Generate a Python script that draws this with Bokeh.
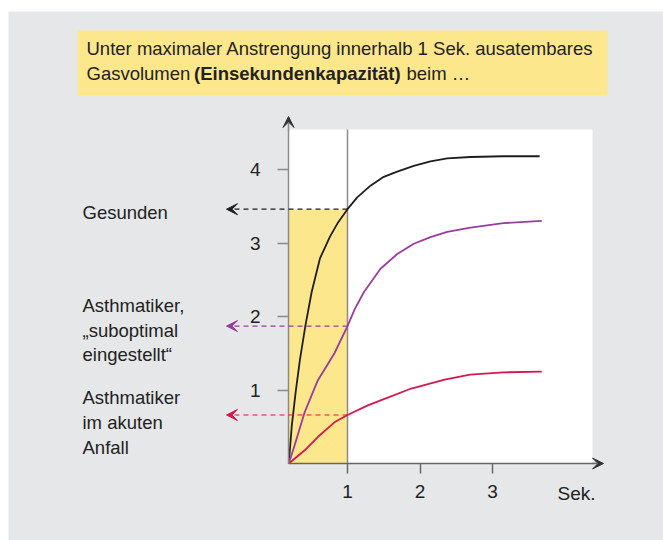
from bokeh.plotting import figure
from bokeh.models import Range1d, FixedTicker, Label, Arrow, VeeHead, LinearAxis
from bokeh.embed import file_html
from bokeh.resources import INLINE

# ---- data ----
x_ticks = [1, 2, 3]
y_ticks = [1, 2, 3, 4]

t_gesund = [0.19, 0.232, 0.285, 0.345, 0.42, 0.505, 0.62, 0.76, 0.87, 1.0, 1.134, 1.317, 1.50, 1.686, 1.914, 2.145, 2.375, 2.697, 3.15, 3.65]
v_gesund = [0.0, 0.52, 0.97, 1.42, 1.88, 2.33, 2.79, 3.09, 3.28, 3.46, 3.62, 3.78, 3.90, 3.97, 4.05, 4.11, 4.15, 4.17, 4.18, 4.18]

t_subopt = [0.19, 0.27, 0.41, 0.59, 0.82, 1.0, 1.1, 1.225, 1.455, 1.686, 1.914, 2.145, 2.375, 2.697, 3.15, 3.68]
v_subopt = [0.0, 0.245, 0.70, 1.13, 1.50, 1.87, 2.10, 2.33, 2.65, 2.85, 2.99, 3.08, 3.15, 3.21, 3.27, 3.30]

t_anfall = [0.19, 0.41, 0.59, 0.82, 1.0, 1.28, 1.51, 1.88, 2.34, 2.69, 3.15, 3.68]
v_anfall = [0.0, 0.18, 0.36, 0.56, 0.66, 0.79, 0.88, 1.02, 1.14, 1.21, 1.24, 1.25]

fev1 = [3.46, 1.87, 0.66]          # volume exhaled after 1 s
series_colors = ["#1e1e1e", "#9a3c9e", "#d8174c"]

title_line1 = "Unter maximaler Anstrengung innerhalb 1 Sek. ausatembares"
title_line2 = ["Gasvolumen", "(Einsekundenkapazität)", "beim …"]
group_labels = [["Gesunden"],
                ["Asthmatiker,", "„suboptimal", "eingestellt“"],
                ["Asthmatiker", "im akuten", "Anfall"]]
x_unit = "Sek."

# ---- layout helpers (page pixel -> data) ----
def px2x(px):
    return 1 + (px - 347.0) / 72.5

def py2y(py):
    return (463.0 - py) / 73.5

FONT = "Liberation Sans"
TXT = "#222222"
GRAY_BG = "#e6e7e9"
YELLOW = "#fde78c"
AX_X = "#666666"
AX_Y = "#8a8a8a"
HEAD = "#333333"

W, H = 663, 540
p = figure(width=W, height=H, output_backend="svg", toolbar_location=None,
           x_range=Range1d(px2x(0), px2x(W)), y_range=Range1d(py2y(H), py2y(0)),
           x_axis_type=None, y_axis_type=None,
           min_border_left=0, min_border_right=0, min_border_top=0, min_border_bottom=0)
p.background_fill_color = "white"
p.border_fill_color = "white"
p.outline_line_color = None
p.grid.visible = False

# background panels
p.quad(left=[px2x(8)], right=[px2x(W + 5)], bottom=[py2y(H + 5)], top=[py2y(11)],
       fill_color=GRAY_BG, line_color=None)
p.quad(left=[px2x(288)], right=[px2x(592)], bottom=[0], top=[py2y(129)],
       fill_color="white", line_color=None)
p.quad(left=[px2x(77)], right=[px2x(607)], bottom=[py2y(95)], top=[py2y(30)],
       fill_color=YELLOW, line_color=None)

# yellow 1-second band
p.quad(left=[px2x(288)], right=[1], bottom=[0], top=[fev1[0]], fill_color=YELLOW, line_color=None)

# vertical line at 1 s
p.segment(x0=[1], y0=[0], x1=[1], y1=[py2y(129)], line_color=AX_Y, line_width=1.5)

# curves
for t, v, c in ((t_gesund, v_gesund, series_colors[0]),
                (t_subopt, v_subopt, series_colors[1]),
                (t_anfall, v_anfall, series_colors[2])):
    p.line(t, v, line_color=c, line_width=1.8, line_join="round")

# axes crossing at the origin
xaxis = LinearAxis(fixed_location=0, bounds=(px2x(288), px2x(593)))
yaxis = LinearAxis(fixed_location=px2x(288), bounds=(0, py2y(129)))
p.add_layout(xaxis, "below")
p.add_layout(yaxis, "left")
for ax, ticks, col in ((xaxis, x_ticks, AX_X), (yaxis, y_ticks, AX_Y)):
    ax.ticker = FixedTicker(ticks=ticks)
    ax.axis_line_color = col
    ax.axis_line_width = 1.5
    ax.major_tick_line_color = col
    ax.major_tick_line_width = 1.5
    ax.major_tick_in = 0
    ax.minor_tick_line_color = None
    ax.major_label_text_font = FONT
    ax.major_label_text_font_size = "19px"
    ax.major_label_text_color = TXT
xaxis.major_tick_out = 10
yaxis.major_tick_out = 11
xaxis.major_label_standoff = 11
yaxis.major_label_standoff = 17

# axis arrows
p.add_layout(Arrow(x_start=px2x(592), y_start=0, x_end=px2x(603), y_end=0,
                   line_color=AX_X, line_width=1.5,
                   end=VeeHead(size=11, fill_color=HEAD, line_color=HEAD, line_width=1)))
p.add_layout(Arrow(x_start=px2x(288), y_start=py2y(130), x_end=px2x(288), y_end=py2y(116),
                   line_color=AX_Y, line_width=1.5,
                   end=VeeHead(size=11, fill_color=HEAD, line_color=HEAD, line_width=1)))

# dashed arrows to the labels
for val, c in zip(fev1, series_colors):
    p.add_layout(Arrow(x_start=1, y_start=val, x_end=px2x(226), y_end=val,
                       line_color=c, line_width=1.2, line_dash="5 4",
                       end=VeeHead(size=11, fill_color=c, line_color=c, line_width=1),
                       start=None))

def add_text(txt, px, py, bold=False, size="18.5px"):
    p.add_layout(Label(x=px2x(px), y=py2y(py), text=txt, text_font=FONT, text_font_size=size,
                       text_color=TXT, text_baseline="middle", text_align="left",
                       text_font_style="bold" if bold else "normal"))

# x unit
add_text(x_unit, 557, 493, size="19px")

# group labels
ys = [[212], [305, 329.5, 354], [397, 422, 447]]
for lines, yy in zip(group_labels, ys):
    for ln, y in zip(lines, yy):
        add_text(ln, 82, y)

# title
add_text(title_line1, 86, 48)
add_text(title_line2[0], 86, 73)
add_text(title_line2[1], 193.5, 73, bold=True)
add_text(title_line2[2], 406, 73)

open("out.html", "w").write(file_html(p, INLINE))
